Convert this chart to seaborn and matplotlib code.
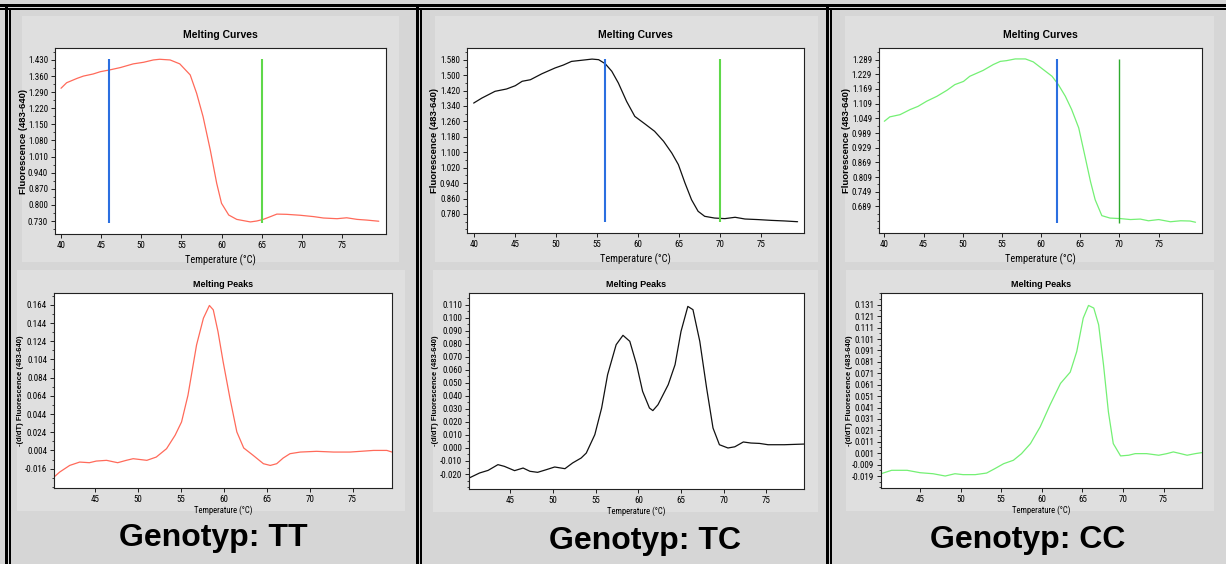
import numpy as np
import pandas as pd
import matplotlib
matplotlib.use("Agg")
import matplotlib.pyplot as plt
from matplotlib import font_manager
from matplotlib.patches import Rectangle
from matplotlib.ticker import FixedLocator, AutoMinorLocator, FormatStrFormatter
import seaborn as sns

# ---- data ----
# TT, melting curve
tt_curve_t = [40, 40.7, 42, 42.8, 44.0, 44.9, 46.1, 47.4, 49.0, 50.3, 51.5, 52.3, 53.6, 54.8, 56.1, 56.9,
              57.7, 58.6, 59.4, 60.0, 60.9, 61.9, 63.6, 64.4, 65.2, 66.1, 66.9, 68.1, 69.8, 71.5, 72.7,
              74.4, 75.6, 76.9, 78.1, 79.6]
tt_curve_f = [1.307, 1.331, 1.350, 1.360, 1.369, 1.379, 1.387, 1.397, 1.413, 1.420, 1.430, 1.433, 1.430,
              1.413, 1.365, 1.285, 1.184, 1.039, 0.894, 0.807, 0.756, 0.737, 0.726, 0.730, 0.737, 0.749,
              0.760, 0.759, 0.755, 0.749, 0.743, 0.740, 0.744, 0.737, 0.734, 0.729]
# TT, melting peaks
tt_peak_t = [40.17, 40.83, 42.0, 43.17, 44.3, 45.1, 46.3, 47.6, 48.6, 49.4, 51.0, 52.1, 53.3, 54.3, 55.05,
             55.8, 56.8, 57.6, 58.3, 58.75, 59.3, 59.9, 60.7, 61.5, 62.3, 63.4, 64.6, 65.4, 66.15, 66.9,
             67.7, 68.9, 70.8, 72.8, 74.7, 77.45, 79.0, 79.6]
tt_peak_d = [-0.0253, -0.0198, -0.0125, -0.0088, -0.0095, -0.0077, -0.0069, -0.0095, -0.0069, -0.0051,
             -0.0069, -0.0033, 0.0059, 0.0207, 0.0353, 0.0647, 0.1199, 0.1493, 0.1633, 0.1585, 0.1346,
             0.1015, 0.0611, 0.0243, 0.0067, -0.0014, -0.0106, -0.0125, -0.0106, -0.0044, 0.0004, 0.0022,
             0.0030, 0.0022, 0.0022, 0.0040, 0.0040, 0.0022]

# TC, melting curve
tc_curve_t = [40, 41.0, 42.6, 44.0, 45.06, 45.9, 46.9, 48.3, 49.9, 50.9, 51.9, 53.15, 54.4, 55.2, 56.0,
              56.8, 57.6, 58.6, 59.6, 60.8, 62.0, 63.1, 64.1, 64.9, 65.7, 66.5, 67.3, 68.1, 69.3, 70.55,
              71.8, 73.0, 74.6, 76.2, 77.8, 79.4]
tc_curve_f = [1.355, 1.381, 1.416, 1.428, 1.445, 1.468, 1.476, 1.507, 1.537, 1.552, 1.571, 1.577, 1.583,
              1.580, 1.559, 1.520, 1.459, 1.364, 1.286, 1.248, 1.209, 1.157, 1.096, 1.036, 0.941, 0.854,
              0.794, 0.768, 0.759, 0.756, 0.763, 0.754, 0.751, 0.747, 0.744, 0.740]
# TC, melting peaks
tc_peak_t = [40.16, 41.4, 42.4, 43.55, 44.3, 45.5, 46.5, 47.3, 48.2, 49.2, 50.2, 51.4, 52.3, 53.3, 53.9,
             54.9, 55.7, 56.4, 57.4, 58.2, 59.0, 59.8, 60.5, 61.3, 61.7, 62.3, 63.5, 64.3, 65.0, 65.8,
             66.4, 67.2, 68.0, 68.75, 69.5, 70.5, 71.3, 72.3, 73.2, 74.2, 75.2, 77.1, 79.4]
tc_peak_d = [-0.0231, -0.0192, -0.0172, -0.0128, -0.0141, -0.0174, -0.0154, -0.0179, -0.0187, -0.0167,
             -0.0146, -0.0159, -0.0115, -0.0077, -0.0039, 0.0102, 0.0307, 0.0563, 0.0793, 0.0865, 0.0819,
             0.0639, 0.0435, 0.0307, 0.0287, 0.0332, 0.0486, 0.0639, 0.0895, 0.1087, 0.1062, 0.0819,
             0.0460, 0.0153, 0.0025, 0.0000, 0.0009, 0.0046, 0.0038, 0.0035, 0.0025, 0.0025, 0.0030]

# CC, melting curve
cc_curve_t = [40, 40.7, 42.0, 43.3, 44.3, 45.4, 46.7, 48.0, 49.0, 50.1, 50.9, 52.6, 53.9, 54.8, 55.6,
              56.7, 58.0, 59.0, 60.3, 61.4, 62.2, 63.1, 63.9, 64.8, 65.6, 66.3, 66.9, 67.75, 68.8, 70.1,
              71.4, 72.65, 73.7, 75.0, 76.5, 77.8, 79.0, 79.7]
cc_curve_f = [1.037, 1.055, 1.064, 1.085, 1.098, 1.119, 1.139, 1.164, 1.187, 1.200, 1.221, 1.245, 1.269,
              1.282, 1.285, 1.292, 1.292, 1.280, 1.248, 1.221, 1.187, 1.139, 1.085, 1.010, 0.894, 0.791,
              0.716, 0.651, 0.641, 0.639, 0.635, 0.637, 0.630, 0.635, 0.626, 0.630, 0.629, 0.624]
# CC, melting peaks
cc_peak_t = [40.19, 41.5, 43.4, 45.0, 46.6, 48.1, 49.3, 50.3, 51.8, 53.2, 54.2, 55.3, 56.5, 57.5, 58.6,
             59.8, 61.0, 62.3, 63.5, 64.3, 65.1, 65.75, 66.4, 67.0, 67.6, 68.2, 68.8, 69.7, 70.7, 71.5,
             72.9, 74.4, 75.4, 76.2, 77.1, 77.9, 78.9, 79.73]
cc_peak_d = [-0.0170, -0.0140, -0.0140, -0.0161, -0.0170, -0.0190, -0.0170, -0.0178, -0.0178, -0.0164,
             -0.0126, -0.0082, -0.0052, 0.0006, 0.0094, 0.0241, 0.0431, 0.0621, 0.0720, 0.0900, 0.1193,
             0.1304, 0.1281, 0.1134, 0.0783, 0.0372, 0.0094, -0.0014, -0.0008, 0.0006, 0.0006, -0.0008,
             0.0006, 0.0021, 0.0006, -0.0008, 0.0006, 0.0015]

genotypes = ["TT", "TC", "CC"]
line_colors = ["#ff6a5a", "#111111", "#74f074"]
blue_marks = [46, 56, 62]
green_marks = [65, 70, 70]

curve_yticks = [np.arange(0.730, 1.431, 0.070), np.arange(0.780, 1.581, 0.080), np.arange(0.689, 1.290, 0.060)]
peak_yticks = [np.arange(-0.016, 0.165, 0.020), np.arange(-0.020, 0.111, 0.010), np.arange(-0.019, 0.132, 0.010)]
curve_ylims = [(0.6735, 1.482), (0.6815, 1.6405), (0.580, 1.3367)]
peak_ylims = [(-0.0373, 0.177), (-0.0315, 0.119), (-0.0295, 0.1413)]
curve_xlims = [(39.25, 80.5), (39.19, 80.18), (39.32, 80.53)]
peak_xlims = [(40.17, 79.6), (40.16, 79.41), (40.19, 79.73)]

curves = [(tt_curve_t, tt_curve_f), (tc_curve_t, tc_curve_f), (cc_curve_t, cc_curve_f)]
peaks = [(tt_peak_t, tt_peak_d), (tc_peak_t, tc_peak_d), (cc_peak_t, cc_peak_d)]

# ---- layout (pixels) ----
W, H = 1226, 564
curve_boxes = [(55, 48, 386, 234), (467, 48, 804, 233), (879, 48, 1202, 233)]
peak_boxes = [(54, 293, 392, 488), (469, 293, 804, 489), (881, 293, 1202, 488)]
top_panels = [(22, 16, 399, 262), (435, 16, 818, 262), (845, 16, 1214, 262)]
bot_panels = [(17, 270, 405, 511), (433, 270, 818, 512), (846, 270, 1214, 511)]
label_pos = [(213, 538), (645, 541), (1028, 540)]
curve_ylab_x = [32, 443, 855]
peak_ylab_x = [28, 443, 857]

sns.set_style("ticks")
plt.rcParams["font.family"] = ["Liberation Sans", "DejaVu Sans"]
for k in ["text.color", "axes.labelcolor", "xtick.color", "ytick.color"]:
    plt.rcParams[k] = "black"

# condensed face for the small instrument-software texts, if one is installed
fonts = font_manager.fontManager.ttflist
names = {f.name for f in fonts}
narrow, nsize = ["Liberation Sans", "DejaVu Sans"], 0.92
for cand in ["Liberation Sans Narrow", "Roboto Condensed", "Open Sans Condensed", "Noto Sans Condensed"]:
    if cand in names:
        narrow, nsize = [cand, "DejaVu Sans"], 1.0
        break
else:
    if any(f.name == "DejaVu Sans" and f.stretch == "condensed" for f in fonts):
        narrow, nsize = ["DejaVu Sans"], 0.95
        plt.rcParams["font.stretch"] = "condensed"


def rect(x0, y0, x1, y1):
    return [x0 / W, 1 - y1 / H, (x1 - x0) / W, (y1 - y0) / H]


fig = plt.figure(figsize=(W / 100, H / 100), dpi=100)
fig.patch.set_facecolor("#d6d6d6")


def fig_rect(x0, y0, x1, y1, color, z=0):
    r = rect(x0, y0, x1, y1)
    fig.add_artist(Rectangle((r[0], r[1]), r[2], r[3], transform=fig.transFigure,
                             facecolor=color, edgecolor="none", zorder=z))


for b in top_panels + bot_panels:
    fig_rect(*b, "#dfdfdf", z=-1)

# black double frame lines
fig_rect(0, 4, W, 7, "black")
fig_rect(0, 8, W, 10, "black")
for x in [5, 416, 826]:
    fig_rect(x, 4, x + 3, H, "black")
    fig_rect(x + 4, 8, x + 6, H, "black")


def style_axis(ax, box, xlim, ylim, xt, yt, ylab_x):
    ax.set_xlim(*xlim)
    ax.set_ylim(*ylim)
    ax.xaxis.set_major_locator(FixedLocator(xt))
    ax.yaxis.set_major_locator(FixedLocator(yt))
    ax.yaxis.set_major_formatter(FormatStrFormatter("%.3f"))
    ax.yaxis.set_minor_locator(AutoMinorLocator(2))
    ax.tick_params(axis="both", which="major", length=3, width=0.6, pad=2,
                   labelsize=6.5 * nsize, labelfontfamily=narrow)
    ax.tick_params(axis="y", which="minor", length=1.5, width=0.5)
    for s in ax.spines.values():
        s.set_linewidth(0.8)
        s.set_color("#222222")
    ax.set_facecolor("white")
    x0, y0, x1, y1 = box
    ax.yaxis.set_label_coords((ylab_x - 4 - x0) / (x1 - x0), 0.5)


for i in range(3):
    # melting curve
    box = curve_boxes[i]
    ax = fig.add_axes(rect(*box))
    t, f = curves[i]
    sns.lineplot(x=t, y=f, ax=ax, color=line_colors[i], linewidth=0.9, sort=False)
    lo, hi = min(f), max(f)
    ax.vlines(blue_marks[i], lo - 0.004, hi, color="#2b6fe0", linewidth=1.5)
    ax.vlines(green_marks[i], lo - 0.004, hi, color="#5fd84a" if i < 2 else "#2eaa2e",
              linewidth=1.5 if i < 2 else 1.0)
    style_axis(ax, box, curve_xlims[i], curve_ylims[i], range(40, 80, 5), curve_yticks[i], curve_ylab_x[i])
    ax.set_title("Melting Curves", fontsize=7.5, fontweight="bold", pad=7, stretch="normal")
    ax.set_xlabel("Temperature (°C)", fontsize=7.5 * nsize, family=narrow, labelpad=3)
    ax.set_ylabel("Fluorescence (483-640)", fontsize=6.8, fontweight="bold", stretch="normal")

    # melting peaks
    box = peak_boxes[i]
    ax = fig.add_axes(rect(*box))
    t, d = peaks[i]
    sns.lineplot(x=t, y=d, ax=ax, color=line_colors[i], linewidth=0.9, sort=False)
    style_axis(ax, box, peak_xlims[i], peak_ylims[i], range(45, 80, 5), peak_yticks[i], peak_ylab_x[i])
    ax.set_title("Melting Peaks", fontsize=6.5, fontweight="bold", pad=4, stretch="normal")
    ax.set_xlabel("Temperature (°C)", fontsize=6.2 * nsize, family=narrow, labelpad=1)
    ax.set_ylabel("-(d/dT) Fluorescence (483-640)", fontsize=5.5, fontweight="bold", stretch="normal")

    x, y = label_pos[i]
    fig.text(x / W, 1 - y / H, "Genotyp: " + genotypes[i], ha="center", va="center",
             fontsize=23, fontweight="bold", color="black", stretch="normal")

fig.savefig("out.png", dpi=100, facecolor=fig.get_facecolor())
